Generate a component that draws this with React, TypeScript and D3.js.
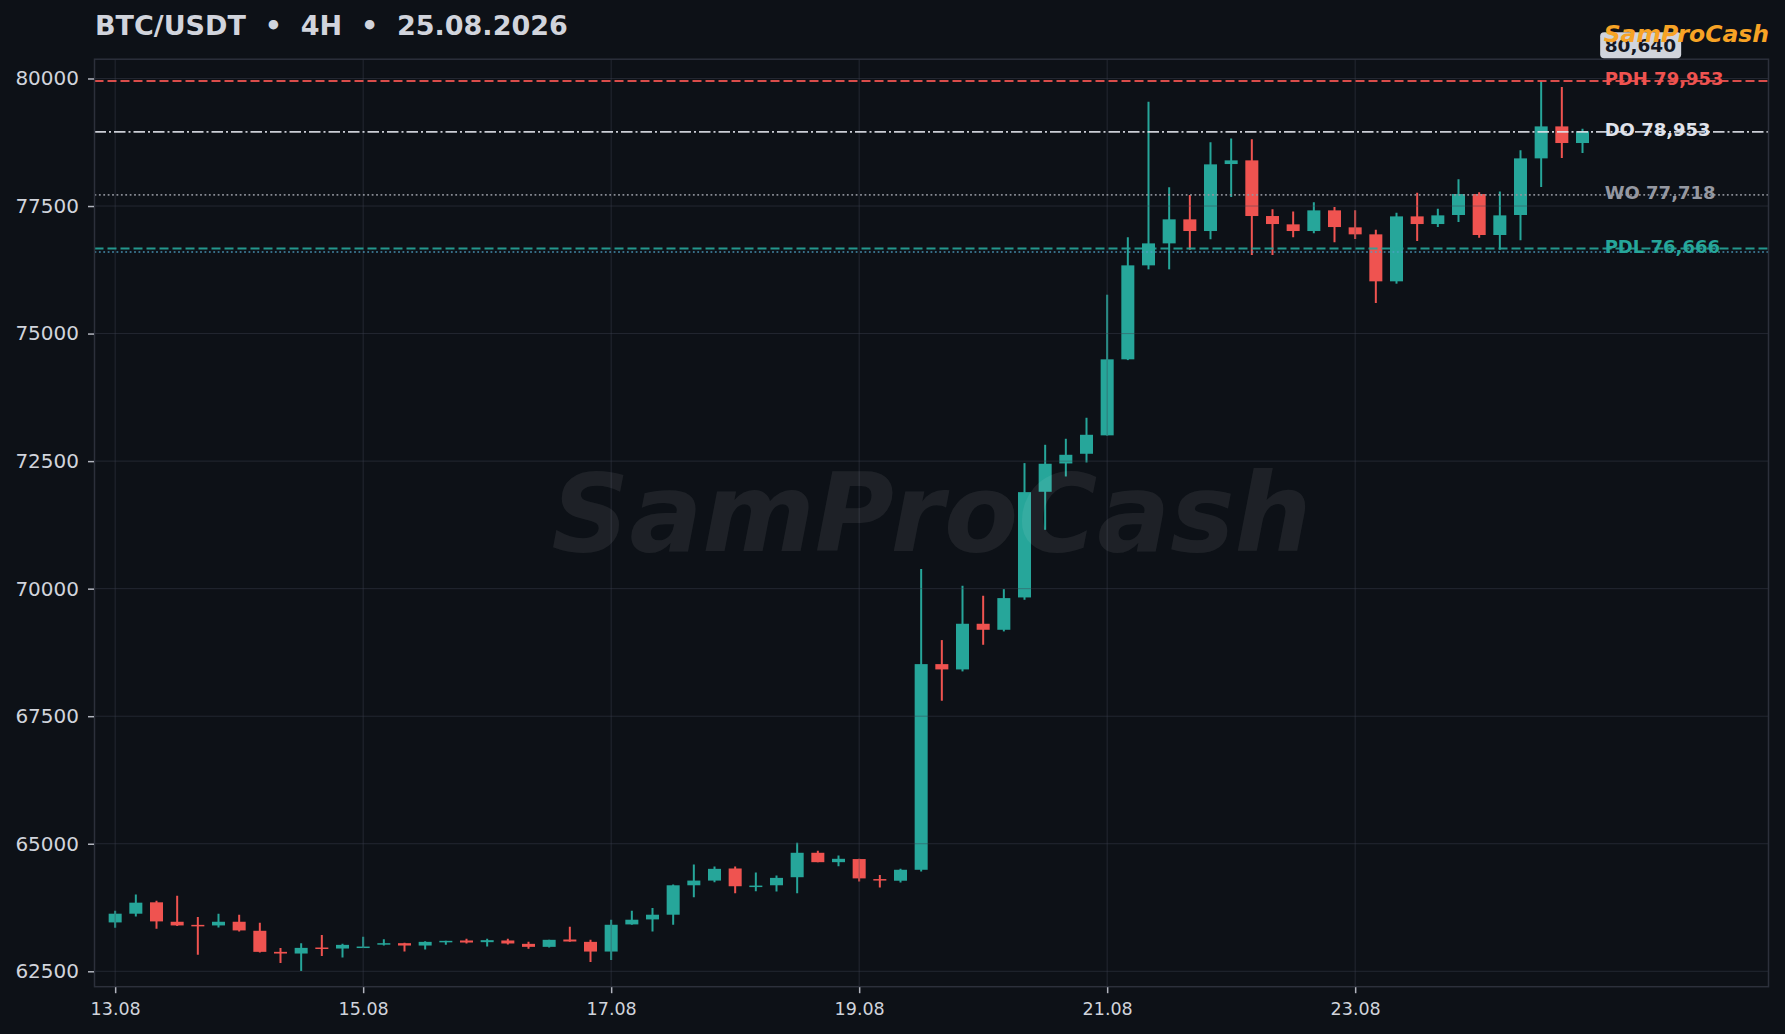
import React, { useRef, useEffect } from 'react';
import * as d3 from 'd3';

// 4H candles, 13.08 00:00 .. 24.08 20:00
const opens = [
  63458, 63629, 63852, 63471, 63410, 63399, 63471, 63294, 62881, 62848, 62966, 62946,
  62975, 63025, 63051, 63005, 63084, 63104, 63071, 63104, 63038, 62979, 63123, 63077,
  62887, 63419, 63517, 63609, 64186, 64278, 64515, 64160, 64186, 64344, 64823, 64639,
  64700, 64308, 64275, 64490, 68521, 68417, 69312, 69194, 69828, 71899, 72454, 72644,
  73005, 74495, 76337, 76768, 77239, 77010, 78323, 78395, 77304, 77141, 77010, 77415,
  77082, 76945, 76024, 77297, 77147, 77324, 77735, 76932, 77324, 78434, 79061, 78735,
];
const highs = [
  63688, 64003, 63885, 63983, 63563, 63629, 63609, 63451, 62959, 63051, 63209, 63038,
  63176, 63130, 63060, 63091, 63100, 63137, 63137, 63137, 63077, 63120, 63373, 63117,
  63511, 63688, 63740, 64200, 64593, 64554, 64554, 64436, 64377, 65020, 64862, 64770,
  64705, 64386, 64510, 70383, 68992, 70057, 69861, 69991, 72461, 72820, 72938, 73350,
  75762, 76886, 79545, 77866, 77716, 78748, 78826, 78807, 77435, 77395, 77572, 77480,
  77415, 77036, 77369, 77761, 77448, 78023, 77768, 77787, 78591, 79953, 79832, 79016,
];
const lows = [
  63353, 63576, 63333, 63390, 62822, 63360, 63281, 62870, 62664, 62507, 62802, 62769,
  62955, 63005, 62887, 62927, 63018, 63045, 62986, 63025, 62940, 62966, 63080, 62684,
  62723, 63412, 63281, 63412, 63950, 64245, 64029, 64068, 64062, 64029, 64635, 64560,
  64262, 64144, 64242, 64458, 67803, 68378, 68900, 69162, 69782, 71154, 72199, 72474,
  73000, 74480, 76259, 76259, 76644, 76847, 77676, 76540, 76540, 76886, 76964, 76788,
  76853, 75599, 75978, 76814, 77088, 77186, 76879, 76644, 76827, 77872, 78441, 78539,
];
const closes = [
  63629, 63845, 63478, 63399, 63390, 63471, 63301, 62881, 62848, 62959, 62946, 63018,
  62985, 63051, 63005, 63077, 63097, 63064, 63110, 63045, 62979, 63117, 63084, 62887,
  63412, 63511, 63609, 64186, 64278, 64508, 64167, 64180, 64331, 64823, 64639, 64705,
  64321, 64281, 64490, 68521, 68417, 69312, 69194, 69815, 71892, 72448, 72624, 73016,
  74495, 76337, 76768, 77239, 77010, 78317, 78395, 77304, 77147, 77010, 77415, 77088,
  76945, 76024, 77297, 77147, 77317, 77735, 76932, 77317, 78434, 79061, 78735, 78963,
];

const yTicks = [62500, 65000, 67500, 70000, 72500, 75000, 77500, 80000];
const xTickIdx = [0, 12, 24, 36, 48, 60];
const xTickLabels = ['13.08', '15.08', '17.08', '19.08', '21.08', '23.08'];

const levelNames = ['PDH', 'DO', 'WO', 'PDL'];
const levelValues = [79953, 78953, 77718, 76666];
const extraLevel = 76600;
const lastPrice = 80640;

const W = 1785;
const H = 1034;
const X0 = 94.5;
const X1 = 1768.5;
const Y0 = 59.2;
const Y1 = 986.7;
const BG = '#0d1117';
const UP = '#26a69a';
const DOWN = '#ef5350';
const TXT = '#d1d4dc';
const FONT = '"DejaVu Sans", sans-serif';

const levelColors = ['#ef5350', '#e0e3eb', '#9598a1', '#26a69a'];
const levelDash = ['9,4', '11.5,3,2,3', '1.8,2.6', '9,4'];
const levelWidth = [2, 1.8, 1.6, 2];

const App: React.FC = () => {
  const svgRef = useRef<SVGSVGElement | null>(null);

  useEffect(() => {
    const svg = d3.select(svgRef.current);
    svg.selectAll('*').remove();
    svg.attr('width', W).attr('height', H);

    const x = d3.scaleLinear().domain([-1, 80]).range([X0, X1]);
    const y = d3.scaleLinear().domain([62198, 80378]).range([Y1, Y0]);
    const step = x(1) - x(0);
    const bodyW = step * 0.63;
    const idx = d3.range(opens.length);
    const col = (i: number) => (closes[i] >= opens[i] ? UP : DOWN);

    svg.append('rect').attr('width', W).attr('height', H).attr('fill', BG);

    svg
      .append('defs')
      .append('clipPath')
      .attr('id', 'plotclip')
      .append('rect')
      .attr('x', X0)
      .attr('y', Y0)
      .attr('width', X1 - X0)
      .attr('height', Y1 - Y0);

    const plot = svg.append('g').attr('clip-path', 'url(#plotclip)');

    // wicks + bodies
    plot
      .selectAll('line.wick')
      .data(idx)
      .join('line')
      .attr('class', 'wick')
      .attr('x1', (i) => x(i))
      .attr('x2', (i) => x(i))
      .attr('y1', (i) => y(highs[i]))
      .attr('y2', (i) => y(lows[i]))
      .attr('stroke', col)
      .attr('stroke-width', 2);

    plot
      .selectAll('rect.body')
      .data(idx)
      .join('rect')
      .attr('class', 'body')
      .attr('x', (i) => x(i) - bodyW / 2)
      .attr('y', (i) => y(Math.max(opens[i], closes[i])))
      .attr('width', bodyW)
      .attr('height', (i) => Math.max(1.5, Math.abs(y(opens[i]) - y(closes[i]))))
      .attr('fill', col);

    // grid over the candles, semi transparent
    const grid = plot.append('g').attr('stroke', 'rgba(62,67,82,0.45)').attr('stroke-width', 1);
    yTicks.forEach((t) => {
      grid.append('line').attr('x1', X0).attr('x2', X1).attr('y1', y(t)).attr('y2', y(t));
    });
    xTickIdx.forEach((t) => {
      grid.append('line').attr('x1', x(t)).attr('x2', x(t)).attr('y1', Y0).attr('y2', Y1);
    });

    // key levels
    levelValues.forEach((v, k) => {
      plot
        .append('line')
        .attr('x1', X0)
        .attr('x2', X1)
        .attr('y1', y(v))
        .attr('y2', y(v))
        .attr('stroke', levelColors[k])
        .attr('stroke-opacity', 0.9)
        .attr('stroke-width', levelWidth[k])
        .attr('stroke-dasharray', levelDash[k]);
    });
    plot
      .append('line')
      .attr('x1', X0)
      .attr('x2', X1)
      .attr('y1', y(extraLevel))
      .attr('y2', y(extraLevel))
      .attr('stroke', '#4fa3c7')
      .attr('stroke-opacity', 0.85)
      .attr('stroke-width', 1.6)
      .attr('stroke-dasharray', '1.8,2.6');

    // watermark
    svg
      .append('text')
      .attr('x', (X0 + X1) / 2)
      .attr('y', 551)
      .attr('text-anchor', 'middle')
      .attr('font-family', FONT)
      .attr('font-weight', 'bold')
      .attr('font-style', 'italic')
      .attr('font-size', 108)
      .attr('fill', '#ffffff')
      .attr('fill-opacity', 0.07)
      .text('SamProCash');

    // spines
    svg
      .append('rect')
      .attr('x', X0)
      .attr('y', Y0)
      .attr('width', X1 - X0)
      .attr('height', Y1 - Y0)
      .attr('fill', 'none')
      .attr('stroke', '#2c303b')
      .attr('stroke-width', 1.5);

    // axes
    const yAxis = svg
      .append('g')
      .attr('transform', `translate(${X0 - 0.5},0)`)
      .call(d3.axisLeft(y).tickValues(yTicks).tickFormat(d3.format('d')).tickSize(6).tickPadding(9));
    const xAxis = svg
      .append('g')
      .attr('transform', `translate(0,${Y1 + 0.5})`)
      .call(
        d3
          .axisBottom(x)
          .tickValues(xTickIdx)
          .tickFormat((_d, k) => xTickLabels[k])
          .tickSize(6)
          .tickPadding(9)
      );
    [yAxis, xAxis].forEach((g) => {
      g.select('.domain').remove();
      g.selectAll('.tick line').attr('stroke', '#b2b5be').attr('stroke-width', 1.5);
      g.selectAll('.tick text').attr('fill', TXT).attr('font-family', FONT);
    });
    yAxis.selectAll('.tick text').attr('font-size', 20);
    xAxis.selectAll('.tick text').attr('font-size', 17.5);

    // level labels
    levelValues.forEach((v, k) => {
      svg
        .append('text')
        .attr('x', x(72) + 1.5)
        .attr('y', y(v))
        .attr('dy', '0.22em')
        .attr('font-family', FONT)
        .attr('font-weight', 'bold')
        .attr('font-size', 18)
        .attr('fill', levelColors[k])
        .text(`${levelNames[k]} ${d3.format(',')(v)}`);
    });

    // last price tag
    const tag = svg.append('g');
    tag
      .append('rect')
      .attr('x', x(72) - 3)
      .attr('y', y(lastPrice) - 13.5)
      .attr('width', 81)
      .attr('height', 26)
      .attr('rx', 4)
      .attr('fill', TXT);
    tag
      .append('text')
      .attr('x', x(72) + 1.5)
      .attr('y', y(lastPrice))
      .attr('dy', '0.33em')
      .attr('font-family', FONT)
      .attr('font-weight', 'bold')
      .attr('font-size', 18.5)
      .attr('fill', '#131722')
      .text(d3.format(',')(lastPrice));

    // brand + title
    svg
      .append('text')
      .attr('x', 1769)
      .attr('y', 41.5)
      .attr('text-anchor', 'end')
      .attr('font-family', FONT)
      .attr('font-weight', 'bold')
      .attr('font-style', 'italic')
      .attr('font-size', 23.5)
      .attr('fill', '#f7a325')
      .text('SamProCash');

    svg
      .append('text')
      .attr('x', 95)
      .attr('y', 35)
      .attr('font-family', FONT)
      .attr('font-weight', 'bold')
      .attr('font-size', 27)
      .attr('fill', TXT)
      .style('white-space', 'pre')
      .text('BTC/USDT  •  4H  •  25.08.2026');
  }, []);

  return (
    <svg
      ref={svgRef}
      style={{ position: 'absolute', left: 0, top: 0, display: 'block' }}
    ></svg>
  );
};

export default App;
